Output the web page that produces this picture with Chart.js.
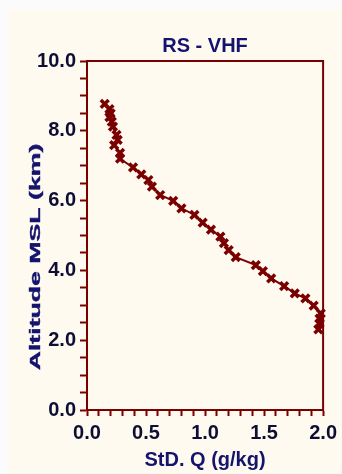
<!DOCTYPE html>
<html>
<head>
<meta charset="utf-8">
<script src="https://cdn.jsdelivr.net/npm/chart.js@4/dist/chart.umd.min.js"></script>
<style>
  html, body { margin: 0; padding: 0; background: #fbfbfb; }
  #wrap { position: relative; width: 342px; height: 474px; }
</style>
</head>
<body>
<div id="wrap"><canvas id="chart" width="342" height="474"></canvas></div>
<script>
// standard deviation of specific humidity vs. altitude, top of profile first
const stdQ = [0.15, 0.19, 0.20, 0.19, 0.21, 0.22, 0.25, 0.26, 0.23, 0.28, 0.28,
              0.39, 0.46, 0.52, 0.55, 0.62, 0.73, 0.80, 0.91, 0.98, 1.05, 1.13,
              1.16, 1.20, 1.26, 1.43, 1.49, 1.56, 1.67, 1.76, 1.85, 1.92, 1.98,
              1.97, 1.97, 1.96];
const altitude = [8.77, 8.62, 8.50, 8.39, 8.26, 8.12, 7.88, 7.74, 7.59, 7.37, 7.20,
                  6.95, 6.75, 6.59, 6.40, 6.16, 5.99, 5.78, 5.59, 5.37, 5.17, 4.97,
                  4.78, 4.58, 4.38, 4.15, 3.98, 3.77, 3.55, 3.34, 3.20, 2.99, 2.77,
                  2.62, 2.48, 2.31];

const xLabels = ['0.0', '0.5', '1.0', '1.5', '2.0'];
const yLabels = ['0.0', '2.0', '4.0', '6.0', '8.0', '10.0'];

const chartTitle = 'RS - VHF';
const xTitle = 'StD. Q (g/kg)';
const yTitle = 'Altitude MSL (km)';

const maroon = '#7a0000';
const navy = '#14146e';
const tickInk = '#0e0e34';
const fontFamily = '"Liberation Sans", Arial, sans-serif';

const points = stdQ.map((q, i) => ({ x: q, y: altitude[i] }));

// cream panel with a thin pale margin on the left and top
const panel = {
  id: 'panel',
  beforeDraw(chart) {
    const ctx = chart.ctx;
    ctx.save();
    ctx.fillStyle = '#fbfbfb';
    ctx.fillRect(0, 0, chart.width, chart.height);
    ctx.fillStyle = '#fffaf0';
    ctx.fillRect(8, 10, chart.width - 8, chart.height - 10);
    ctx.restore();
  }
};

// box round the plot and the stretched vertical axis title
const frame = {
  id: 'frame',
  beforeDatasetsDraw(chart) {
    const { ctx, chartArea: a } = chart;
    ctx.save();
    ctx.strokeStyle = maroon;
    ctx.lineWidth = 2;
    ctx.strokeRect(a.left, a.top, a.right - a.left, a.bottom - a.top);
    ctx.restore();
  },
  afterDraw(chart) {
    const ctx = chart.ctx;
    ctx.save();
    ctx.translate(36, 257);
    ctx.rotate(-Math.PI / 2);
    ctx.scale(1.72, 1);
    ctx.font = 'bold 15.5px ' + fontFamily;
    ctx.fillStyle = navy;
    ctx.strokeStyle = navy;
    ctx.lineWidth = 0.4;
    ctx.textAlign = 'center';
    ctx.textBaseline = 'middle';
    ctx.fillText(yTitle, 0, 0);
    ctx.strokeText(yTitle, 0, 0);
    ctx.restore();
  }
};

new Chart(document.getElementById('chart'), {
  type: 'scatter',
  data: {
    datasets: [{
      data: points,
      showLine: true,
      borderColor: maroon,
      borderWidth: 2,
      pointStyle: 'crossRot',
      pointRadius: 5.5,
      pointBorderWidth: 3.5,
      pointBorderColor: maroon,
      pointBackgroundColor: maroon,
      clip: false
    }]
  },
  options: {
    responsive: false,
    animation: false,
    layout: { padding: { left: 0, right: 18, top: 0, bottom: 0 } },
    plugins: {
      legend: { display: false },
      tooltip: { enabled: false },
      title: {
        display: true,
        text: chartTitle,
        fullSize: false,
        color: navy,
        font: { family: fontFamily, size: 20, weight: 'bold' },
        padding: { top: 34, bottom: 3 }
      }
    },
    scales: {
      x: {
        type: 'linear',
        min: 0,
        max: 2,
        afterFit(scale) { scale.height = 64; },
        border: { color: maroon, width: 2 },
        grid: { drawOnChartArea: false, tickLength: 6, tickWidth: 2, tickColor: maroon },
        ticks: {
          stepSize: 0.1,
          autoSkip: false,
          maxRotation: 0,
          padding: 5,
          color: tickInk,
          font: { family: fontFamily, size: 20, weight: 'bold' },
          callback(v) {
            const k = Math.round(v * 10);
            return k % 5 === 0 ? xLabels[k / 5] : '';
          }
        },
        title: {
          display: true,
          text: xTitle,
          color: navy,
          font: { family: fontFamily, size: 20, weight: 'bold' },
          padding: { top: 0, bottom: 2 }
        }
      },
      y: {
        type: 'linear',
        min: 0,
        max: 10,
        afterFit(scale) { scale.width = 87; },
        border: { color: maroon, width: 2 },
        grid: { drawOnChartArea: false, tickLength: 7, tickWidth: 2, tickColor: maroon },
        ticks: {
          stepSize: 0.5,
          autoSkip: false,
          padding: 4,
          color: tickInk,
          font: { family: fontFamily, size: 20, weight: 'bold' },
          callback(v) {
            const k = Math.round(v * 2);
            return k % 4 === 0 ? yLabels[k / 4] : '';
          }
        }
      }
    }
  },
  plugins: [panel, frame]
});
</script>
</body>
</html>
